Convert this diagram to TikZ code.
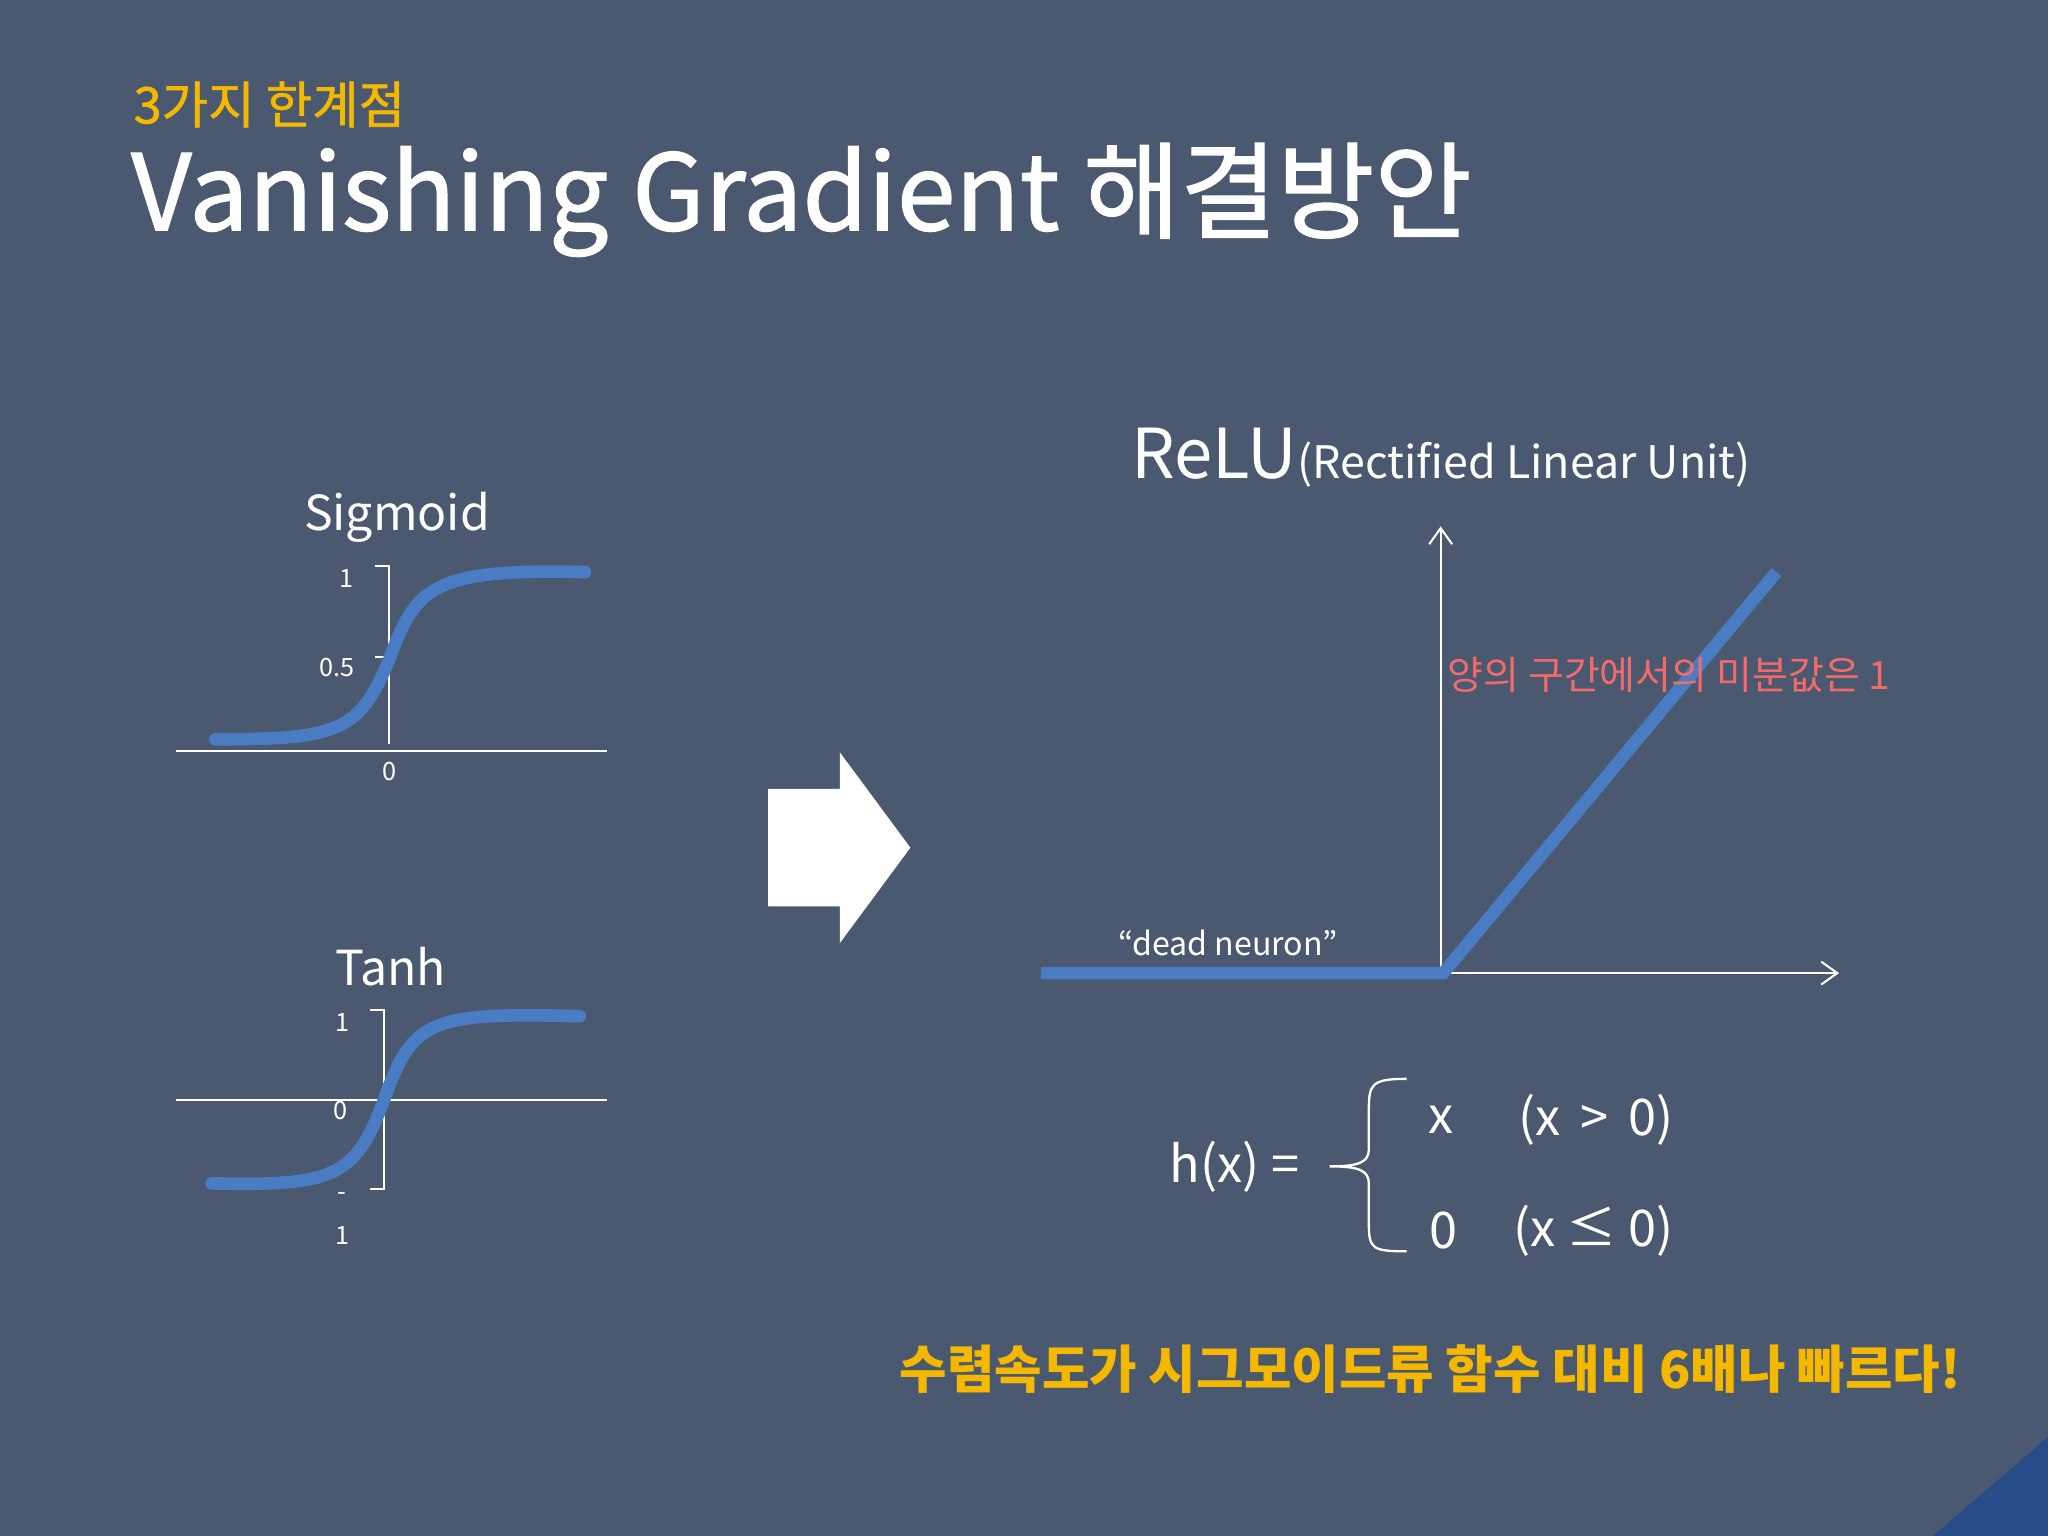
\documentclass[tikz,border=0pt]{standalone}
\usepackage{fontspec}
\setmainfont{Noto Sans CJK KR}
\newfontfamily\medfont{Noto Sans CJK KR}[FakeBold=1.2]
\usetikzlibrary{arrows.meta,decorations.pathreplacing}
\definecolor{bg}{HTML}{4A5870}
\definecolor{yel}{HTML}{F5B800}
\definecolor{cblue}{HTML}{4A7CC4}
\definecolor{red1}{HTML}{F26A6A}
\definecolor{corner}{HTML}{284C88}
\tikzset{
  curve/.style={cblue,line width=5.5pt,line cap=round},
  ax/.style={white,line width=0.9pt},
  lbl/.style={white,font=\fontsize{11}{13}\selectfont},
  txt/.style={white,inner sep=0pt},
}
\begin{document}
\begin{tikzpicture}[x=0.02cm,y=-0.02cm]
\fill[bg] (0,0) rectangle (1568,1176);
\useasboundingbox (0,0) rectangle (1568,1176);
\fill[corner] (1480,1176) -- (1568,1100) -- (1568,1176) -- cycle;
% titles
\node[txt,yel,anchor=west,font=\fontsize{22}{26}\selectfont\medfont] (sub) at (102,80) {3가지 한계점};
\node[txt,anchor=west,font=\fontsize{46}{54}\selectfont\medfont] (title) at (100,153) {Vanishing Gradient 해결방안};
% sigmoid
\node[txt,font=\fontsize{21}{24}\selectfont] (sigl) at (304,396) {Sigmoid};
\draw[ax] (135,575) -- (465,575);
\draw[ax] (287,433) -- (298,433) -- (298,570);
\draw[ax] (287,503) -- (298,503);
\node[lbl] (s1) at (265,443) {1};
\node[lbl] (s5) at (258,511) {0.5};
\node[lbl] (sz) at (298,591) {0};
\draw[curve] (165,566) .. controls (260,566) and (275,560) .. (298,505) .. controls (318,450) and (330,435) .. (448,438);
% tanh
\node[txt,font=\fontsize{21}{24}\selectfont] (tanl) at (299,740) {Tanh};
\draw[ax] (135,842) -- (465,842);
\draw[ax] (283,773) -- (294,773) -- (294,910) -- (283,910);
\node[lbl] (t1) at (262,783) {1};
\node[lbl] (t0) at (261,850) {0};
\node[lbl] (tm) at (262,916) {-};
\node[lbl] (tm1) at (262,946) {1};
\draw[curve] (162,906) .. controls (255,908) and (272,902) .. (294,842) .. controls (316,780) and (330,775) .. (444,778);
% big arrow
\fill[white] (588,604) -- (643,604) -- (643,576) -- (697,649) -- (643,722) -- (643,694) -- (588,694) -- cycle;
% ReLU
\node[txt,anchor=base west,font=\fontsize{30}{34}\selectfont] (relu) at (866,366) {ReLU\fontsize{19.5}{22}\selectfont(Rectified Linear Unit)};
\coordinate (o) at (1103,745);
\coordinate (ytop) at (1103,403);
\coordinate (xend) at (1408,745);
\draw[ax,-{Straight Barb[length=7pt,width=10pt]}] (o) -- (ytop);
\draw[ax,-{Straight Barb[length=7pt,width=10pt]}] (o) -- (xend);
\draw[cblue,line width=5.5pt] (797,745) -- (1105,745) -- (1360,438);
\node[txt,font=\fontsize{14}{16}\selectfont] (dead) at (940,722) {“dead neuron”};
\node[txt,red1,anchor=west,font=\fontsize{17}{19}\selectfont] (deriv) at (1108,517) {양의 구간에서의 미분값은 1};
% formula
\node[txt,anchor=east,font=\fontsize{22}{24}\selectfont] (hx) at (995,893) {h(x) =};
\draw[white,line width=1pt] (1077,826) .. controls (1050,826) and (1048,830) .. (1048,850) -- (1048,880) .. controls (1048,890) and (1040,893) .. (1018,893) .. controls (1040,893) and (1048,896) .. (1048,906) -- (1048,936) .. controls (1048,956) and (1050,958) .. (1077,958);
\node[txt,font=\fontsize{22}{24}\selectfont] (c1) at (1103,857) {x};
\node[txt,font=\fontsize{22}{24}\selectfont] (c1b) at (1222,857) {(x \,>\, 0)};
\node[txt,font=\fontsize{22}{24}\selectfont] (c2) at (1105,942) {0};
\node[txt,font=\fontsize{22}{24}\selectfont] (c2b) at (1220,942) {(x ≤ 0)};
% bottom
\node[txt,yel,font=\fontsize{22.5}{26}\selectfont\bfseries] (bot) at (1095,1048) {수렴속도가 시그모이드류 함수 대비 6배나 빠르다!};
\end{tikzpicture}
\end{document}
